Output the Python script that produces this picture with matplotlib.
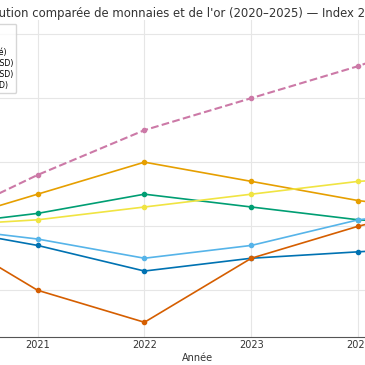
import matplotlib
matplotlib.use('Agg')
import matplotlib.pyplot as plt

# Données (indice 2020 = 100)
annees = [2020, 2021, 2022, 2023, 2024, 2025]
serie_or = [100, 108, 115, 120, 125, 131]
serie_chf = [100, 105, 110, 107, 104, 102]
serie_dxy = [100, 102, 105, 103, 101, 100]
serie_eur = [100, 101, 103, 105, 107, 108]
serie_gbp = [100, 98, 95, 97, 101, 103]
serie_cad = [100, 97, 93, 95, 96, 97]
serie_jpy = [100, 90, 85, 95, 100, 104]

noms = ["Or (XAU)", "CHF/USD", "Dollar US (inversé)",
        "EUR (valeur en USD)", "GBP (valeur en USD)", "JPY (valeur en USD)", None]
couleurs = ["#CC79A7", "#E69F00", "#009E73", "#F0E442", "#56B4E9", "#0072B2", "#D55E00"]

fig = plt.figure(figsize=(3.65, 3.65), dpi=100)
# la figure est un recadrage d'un graphique plus large
ax = fig.add_axes([-96.1 / 365, 28 / 365, 588 / 365, 317 / 365])

ax.plot(annees, serie_or, color=couleurs[0], ls='--', lw=1.5, marker='o', ms=3, label=noms[0])
series = [serie_chf, serie_dxy, serie_eur, serie_gbp, serie_cad, serie_jpy]
for i, s in enumerate(series):
    lab = noms[i + 1] if noms[i + 1] else '_nolegend_'
    ax.plot(annees, s, color=couleurs[i + 1], lw=1.2, marker='o', ms=3, label=lab)

ax.set_xlim(2019.75, 2025.25)
ax.set_ylim(82.7, 132.2)
ax.set_xticks(annees)
ax.set_yticks([90, 100, 110, 120, 130])
ax.grid(True, color='#e6e6e6', lw=0.8)
ax.set_axisbelow(True)
for sp in ['top', 'right', 'left']:
    ax.spines[sp].set_visible(False)
ax.spines['bottom'].set_color('#555555')
ax.tick_params(axis='x', length=0, pad=2, labelsize=7, labelcolor='#333333')
ax.tick_params(axis='y', length=0, labelsize=7, labelcolor='#333333')
ax.set_xlabel("Année", fontsize=7, color='#333333', labelpad=2)
fig.text(-26.5 / 365, 1 - 13 / 365,
         "Évolution comparée de monnaies et de l'or (2020–2025) — Index 2020 = 100",
         fontsize=8.36, color='#333333', ha='left', va='center')
ax.legend(loc='upper left', fontsize=5.6, labelspacing=0.22, frameon=True,
          edgecolor='#cccccc', borderaxespad=0.5)

fig.savefig('out.png', dpi=100)
